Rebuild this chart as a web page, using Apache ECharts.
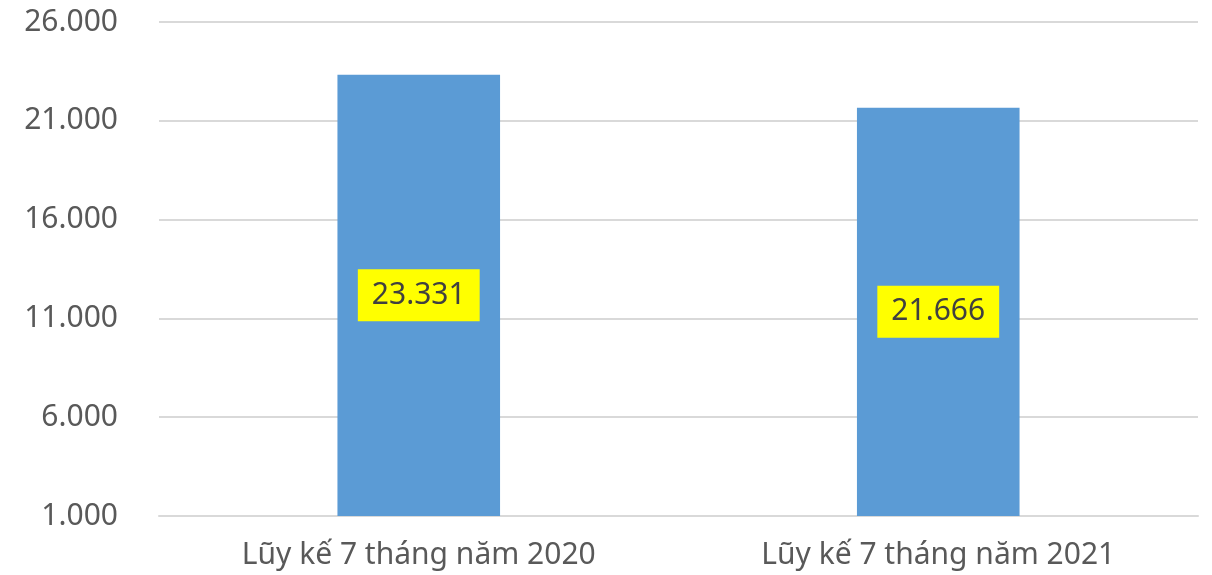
<!DOCTYPE html>
<html>
<head>
<meta charset="utf-8">
<script src="https://cdn.jsdelivr.net/npm/echarts@6/dist/echarts.min.js"></script>
<style>
  html, body { margin: 0; padding: 0; background: #ffffff; }
  #barChart { width: 1212px; height: 575px; }
</style>
</head>
<body>
<div id="barChart"></div>
<script>
// data
var categories = ['Lũy kế 7 tháng năm 2020', 'Lũy kế 7 tháng năm 2021'];
var values = [23331, 21666];
var yTicks = [1000, 26000, 5000]; // min, max, step

function fmt(v) {
  // thousands separator with a dot, as in the original
  return String(Math.round(v)).replace(/\B(?=(\d{3})+(?!\d))/g, '.');
}

var chartDom = document.getElementById('barChart');
var myChart = echarts.init(chartDom);
var option;

option = {
  backgroundColor: '#ffffff',
  animation: false,
  textStyle: {
    fontFamily: 'Noto Sans'
  },
  grid: {
    left: 159,
    right: 14,
    top: 22,
    bottom: 59
  },
  xAxis: {
    type: 'category',
    data: categories,
    axisLine: {
      lineStyle: { color: '#d9d9d9', width: 2 }
    },
    axisTick: { show: false },
    axisLabel: {
      color: '#595959',
      fontSize: 30,
      margin: 24
    }
  },
  yAxis: {
    type: 'value',
    min: yTicks[0],
    max: yTicks[1],
    interval: yTicks[2],
    axisLine: { show: false },
    axisTick: { show: false },
    axisLabel: {
      color: '#595959',
      fontSize: 30,
      margin: 41,
      formatter: fmt
    },
    splitLine: {
      lineStyle: { color: '#d9d9d9', width: 2 }
    }
  },
  series: [
    {
      type: 'bar',
      data: values,
      barWidth: '31.3%',
      itemStyle: { color: '#5b9bd5' },
      label: {
        show: true,
        position: 'inside',
        formatter: function (p) { return fmt(p.value); },
        color: '#404040',
        fontSize: 30,
        backgroundColor: '#ffff00',
        padding: [12, 14, 10, 14]
      }
    }
  ]
};
myChart.setOption(option);
</script>
</body>
</html>
